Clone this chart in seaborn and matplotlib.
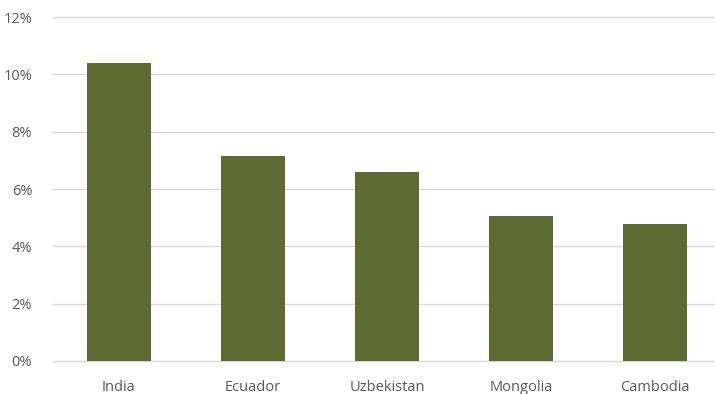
import matplotlib
matplotlib.use("Agg")
import matplotlib.pyplot as plt
import seaborn as sns
import pandas as pd
from matplotlib.ticker import FuncFormatter

countries = ["India", "Ecuador", "Uzbekistan", "Mongolia", "Cambodia"]
values = [10.39, 7.15, 6.59, 5.06, 4.78]
yticks = [0, 2, 4, 6, 8, 10, 12]

df = pd.DataFrame({"country": countries, "value": values})

sns.set_theme(style="white")
plt.rcParams['font.family'] = ['Open Sans', 'DejaVu Sans']

fig = plt.figure(figsize=(7.15, 3.94), dpi=100)
W, H = 715, 394
left, right = 51.6, 715
bottom, top = 361, 17
ax = fig.add_axes([left / W, 1 - bottom / H, (right - left) / W, (bottom - top) / H])

sns.barplot(data=df, x="country", y="value", color="#5C6B32", width=0.477,
            saturation=1, linewidth=0, ax=ax, zorder=3)

ax.set_ylim(0, 12)
ax.set_xlim(-0.5, 4.5 - (722.4 - 715) / 134.15)
ax.set_yticks(yticks)
ax.yaxis.set_major_formatter(FuncFormatter(lambda v, p: f"{v:.0f}%"))
ax.grid(axis="y", color="#D9D9D9", linewidth=1, zorder=0)
for gl in ax.get_ygridlines():
    gl.set_clip_on(False)
ax.set_axisbelow(True)
for s in ["top", "right", "left", "bottom"]:
    ax.spines[s].set_visible(False)
ax.set_xlabel("")
ax.set_ylabel("")
ax.tick_params(axis="both", length=0, labelsize=10.5, labelcolor="#595959")
ax.tick_params(axis="y", pad=14)
ax.tick_params(axis="x", pad=14)

fig.savefig("out.png", dpi=100)
